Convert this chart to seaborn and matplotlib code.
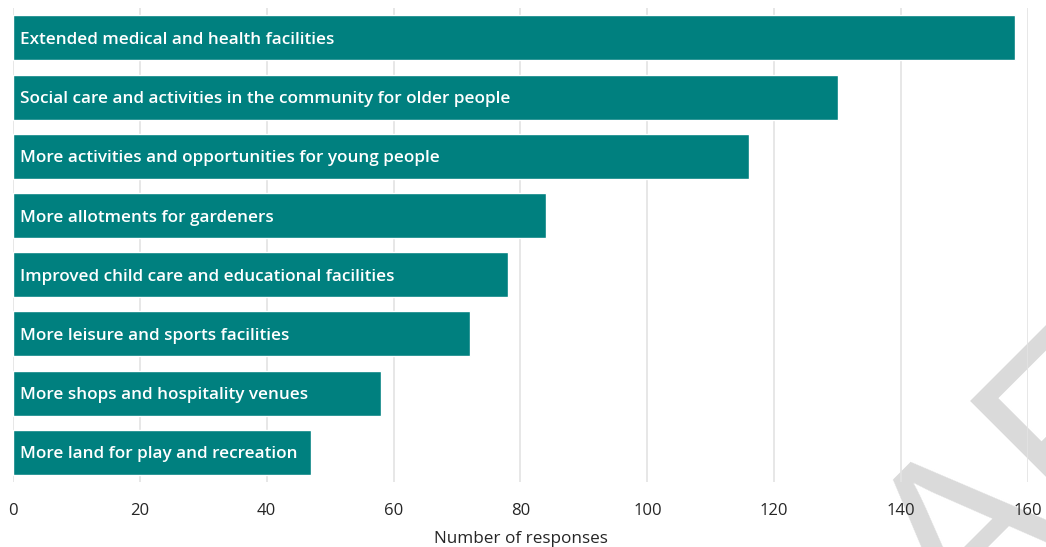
import matplotlib
matplotlib.use("Agg")
import matplotlib.pyplot as plt
import seaborn as sns
import pandas as pd

categories = [
    "Extended medical and health facilities",
    "Social care and activities in the community for older people",
    "More activities and opportunities for young people",
    "More allotments for gardeners",
    "Improved child care and educational facilities",
    "More leisure and sports facilities",
    "More shops and hospitality venues",
    "More land for play and recreation",
]
responses = [158, 130, 116, 84, 78, 72, 58, 47]
x_ticks = [0, 20, 40, 60, 80, 100, 120, 140, 160]
x_label = "Number of responses"

sns.set_style("white")
plt.rcParams["font.family"] = ["Open Sans", "DejaVu Sans"]

df = pd.DataFrame({"category": categories, "responses": responses})

fig = plt.figure(figsize=(10.46, 5.47), dpi=100)
ax = fig.add_axes([0.0124, 0.1188, 0.9704, 0.8662])
ax.set_facecolor("none")

# faint watermark behind the plot, anchored at the start of its baseline
fig.text(0.6826, -0.587, "DRAFT", rotation=45, rotation_mode="anchor",
         fontsize=170, color="#dadada", ha="left", va="baseline",
         zorder=-5, family="Liberation Sans")

sns.barplot(data=df, y="category", x="responses", orient="h",
            color="#00807f", saturation=1, width=0.76, ax=ax, zorder=2)

for i, cat in enumerate(categories):
    ax.annotate(cat, xy=(0, i), xytext=(5, -1.5), textcoords="offset points",
                ha="left", va="center", color="white", fontsize=12.3,
                fontweight=600, zorder=3)

ax.set_xlim(0, 160)
ax.set_ylim(7.5, -0.5)
ax.set_xticks(x_ticks)
ax.set_xticklabels([str(t) for t in x_ticks], fontsize=12, color="#262626")
ax.tick_params(axis="x", length=0, pad=15)
ax.set_yticks([])
ax.set_ylabel("")
ax.set_xlabel(x_label, fontsize=12.3, color="#262626", labelpad=9)
ax.xaxis.grid(True, color="#e3e3e3", linewidth=1.2, zorder=0)
ax.set_axisbelow(True)
for s in ax.spines.values():
    s.set_visible(False)

fig.savefig("out.png", dpi=100)
